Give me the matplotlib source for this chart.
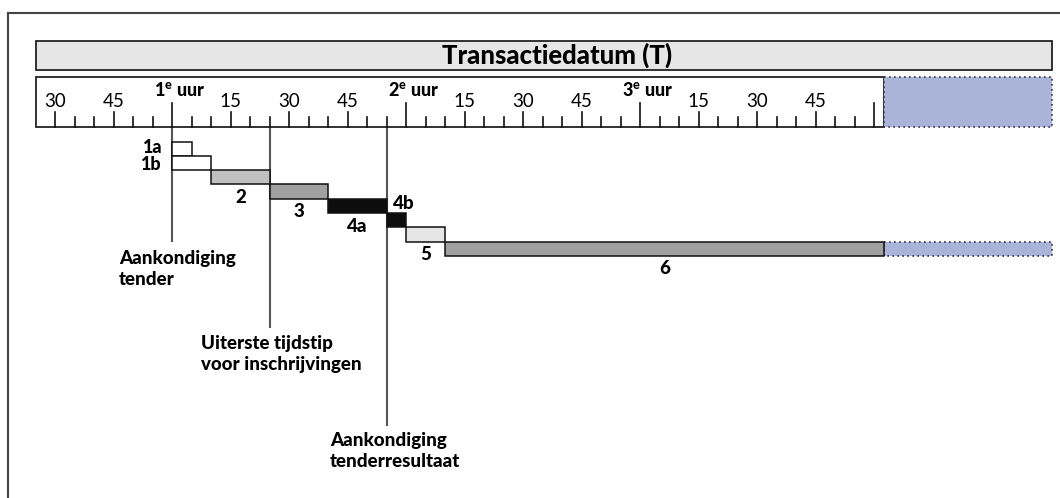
"""
Tijdlijn tenderprocedure op transactiedatum (T), getekend als staircase-gantt.
"""
import matplotlib
matplotlib.use('Agg')
import matplotlib.pyplot as plt
from matplotlib.patches import Rectangle

plt.rcParams['font.family'] = ['Lato', 'DejaVu Sans']
plt.rcParams['mathtext.fontset'] = 'custom'
plt.rcParams['mathtext.rm'] = 'Lato'
plt.rcParams['mathtext.bf'] = 'Lato:black'

# --- data (minutes relative to the 1st hour) ---
title = 'Transactiedatum (T)'
ruler_start, ruler_end = -35, 182.6
ext_end = 225.6
hour_labels = ['1', '2', '3']
hour_minutes = [0, 60, 120]

step_names = ['1a', '1b', '2', '3', '4a', '4b', '5', '6']
step_start = [0, 0, 10, 25, 40, 55, 60, 70]
step_end = [5, 10, 25, 40, 55, 60, 70, 182.6]
step_colors = ['white', 'white', '#c0c0c0', '#a0a0a0', '#0d0d0d', '#0d0d0d',
               '#e6e6e6', '#a0a0a0']
label_pos = ['left', 'left', 'below', 'below', 'below', 'above', 'below', 'below']

events = ['Aankondiging\ntender', 'Uiterste tijdstip\nvoor inschrijvingen',
          'Aankondiging\ntenderresultaat']
event_minutes = [0, 25, 55]

# --- layout (pixel units on y, minutes on x) ---
W, H = 1060, 498
PX_PER_MIN = 3.9
X0 = 172
BOLD = 'black'


def tm(px):
    return (px - X0) / PX_PER_MIN


fig = plt.figure(figsize=(W / 100, H / 100), dpi=100)
ax = fig.add_axes([0, 0, 1, 1])
ax.set_xlim(tm(0), tm(W))
ax.set_ylim(H, 0)
ax.axis('off')

# outer frame (left + top only)
ax.plot([tm(8), tm(W)], [13, 13], color='#444444', lw=1.5, clip_on=False)
ax.plot([tm(8), tm(8)], [13, H], color='#444444', lw=1.5, clip_on=False)

# header
ax.add_patch(Rectangle((ruler_start, 41), ext_end - ruler_start, 29,
                       facecolor='#e6e6e6', edgecolor='#222222', lw=1.3))
ax.text(tm(557), 55, title, ha='center', va='center', fontsize=18.5,
        fontweight=BOLD)

# ruler
ruler_top, ruler_bot = 77, 127
ax.add_patch(Rectangle((ruler_start, ruler_top), ruler_end - ruler_start,
                       ruler_bot - ruler_top, facecolor='white',
                       edgecolor='#222222', lw=1.3, zorder=2))
ax.add_patch(Rectangle((ruler_end, ruler_top), ext_end - ruler_end,
                       ruler_bot - ruler_top, facecolor='#aab4d8',
                       edgecolor='#333355', lw=1.2, ls=(0, (1, 2)), zorder=2))

for m in range(-30, 181, 5):
    if m % 60 == 0:
        top = 103
    elif m % 15 == 0:
        top = 112
    else:
        top = 117
    ax.plot([m, m], [top, ruler_bot], color='#111111', lw=1.2, zorder=3)
    if m % 15 == 0 and m % 60 != 0:
        ax.text(m, 101, str(m % 60), ha='center', va='center', fontsize=13.5)

for h, m in zip(hour_labels, hour_minutes):
    ax.text(m + 8 / PX_PER_MIN, 90, h + r'$^\mathbf{e}$ uur', ha='center',
            va='center', fontsize=13, fontweight=BOLD)

# event lines and labels
line_ends = [241, 327, 425]
line_tops = [103, 117, 117]
label_left = [119, 201, 330]
label_y = [269, 354, 451]
for name, m, y1, y0, lx, ly in zip(events, event_minutes, line_ends,
                                   line_tops, label_left, label_y):
    ax.plot([m, m], [y0, y1], color='#555555', lw=1.5, zorder=1)
    ax.text(tm(lx), ly, name, ha='left', va='center', fontsize=13.5,
            fontweight=BOLD, linespacing=1.25)

# steps
row_top, row_h = 141.5, 14.3
left_dy = [-1.5, 1.5]
for i, (name, s, e, c, pos) in enumerate(zip(step_names, step_start, step_end,
                                             step_colors, label_pos)):
    y = row_top + i * row_h
    ax.add_patch(Rectangle((s, y), e - s, row_h, facecolor=c,
                           edgecolor='#111111', lw=1.1, zorder=4))
    if pos == 'left':
        ax.text(s - 10 / PX_PER_MIN, y + row_h / 2 + left_dy[i], name,
                ha='right', va='center', fontsize=13, fontweight=BOLD)
    elif pos == 'above':
        ax.text(s + 6 / PX_PER_MIN, y - 10, name, ha='left', va='center',
                fontsize=13.5, fontweight=BOLD)
    else:
        ax.text((s + e) / 2, y + row_h + 13, name, ha='center', va='center',
                fontsize=13.5, fontweight=BOLD)

# dotted extension of the last step
last_y = row_top + (len(step_names) - 1) * row_h
ax.add_patch(Rectangle((step_end[-1], last_y), ext_end - step_end[-1], row_h,
                       facecolor='#aab4d8', edgecolor='#333355', lw=1.2,
                       ls=(0, (1, 2)), zorder=3))

fig.savefig('out.png', dpi=100)
